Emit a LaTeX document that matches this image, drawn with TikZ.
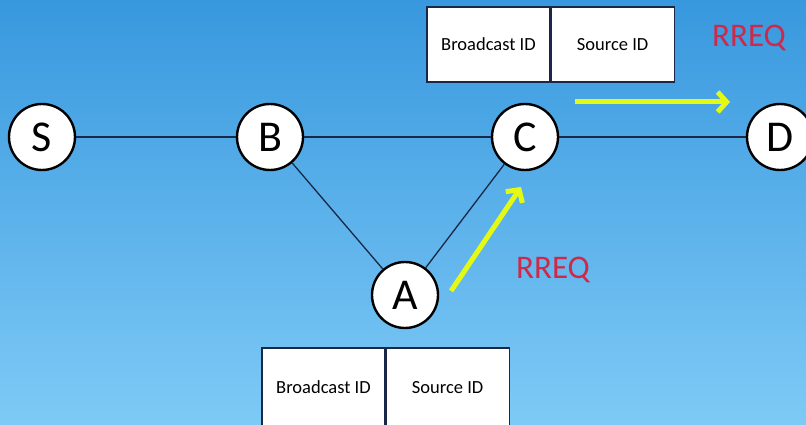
\documentclass[tikz,border=0pt]{standalone}
\usepackage{fontspec}
\setmainfont{Carlito}
\usetikzlibrary{arrows.meta}
\definecolor{skytop}{RGB}{56,152,222}
\definecolor{skybot}{RGB}{126,202,246}
\definecolor{linkcol}{RGB}{24,40,70}
\definecolor{hopcol}{RGB}{228,250,20}
\definecolor{msgred}{RGB}{208,40,72}
\tikzset{
  station/.style={circle, draw=black, fill=white, line width=2.4pt,
    minimum size=66pt, inner sep=0pt, font=\fontsize{44}{44}\selectfont},
  link/.style={draw=linkcol, line width=1.3pt},
  field/.style={rectangle, draw=linkcol, fill=white, line width=1.1pt,
    minimum width=123pt, inner sep=0pt, font=\fontsize{18.5}{19}\selectfont},
  hop/.style={draw=hopcol, line width=5pt,
    -{Straight Barb[length=9pt,width=20pt,line width=5pt]}},
  msg/.style={text=msgred, font=\fontsize{33}{33}\selectfont}
}
\begin{document}
\begin{tikzpicture}[x=1pt,y=-1pt]
  \useasboundingbox (0,0) rectangle (806,425);
  \clip (0,0) rectangle (806,425);
  \shade[top color=skytop, bottom color=skybot] (0,0) rectangle (806,425);

  % stations
  \node[station] (S) at (42,137) {S};
  \node[station] (B) at (270,137) {B};
  \node[station] (C) at (525,137) {C};
  \node[station] (D) at (780,137) {D};
  \node[station] (A) at (405,295) {A};

  % links
  \draw[link] (S) -- (B);
  \draw[link] (B) -- (C);
  \draw[link] (C) -- (D);
  \draw[link] (B) -- (A);
  \draw[link] (A) -- (C);

  % packet header carried by C
  \node[field, minimum height=75pt] (cb) at (488.5,44.5) {Broadcast ID};
  \node[field, minimum height=75pt, anchor=west] (cs) at (cb.east) {Source ID};

  % packet header carried by A
  \node[field, minimum height=84pt] (ab) at (323.5,390) {\raisebox{5pt}{Broadcast ID}};
  \node[field, minimum height=84pt, anchor=west] (as) at (ab.east) {\raisebox{5pt}{Source ID}};

  % request propagation
  \coordinate (h1s) at (575,102);
  \coordinate (h1e) at (730,102);
  \draw[hop] (h1s) -- (h1e);
  \coordinate (h2s) at (451,291);
  \coordinate (h2e) at (521,187);
  \draw[hop] (h2s) -- (h2e);

  \node[msg] (r1) at (749,38) {RREQ};
  \node[msg] (r2) at (553,270) {RREQ};
\end{tikzpicture}
\end{document}
